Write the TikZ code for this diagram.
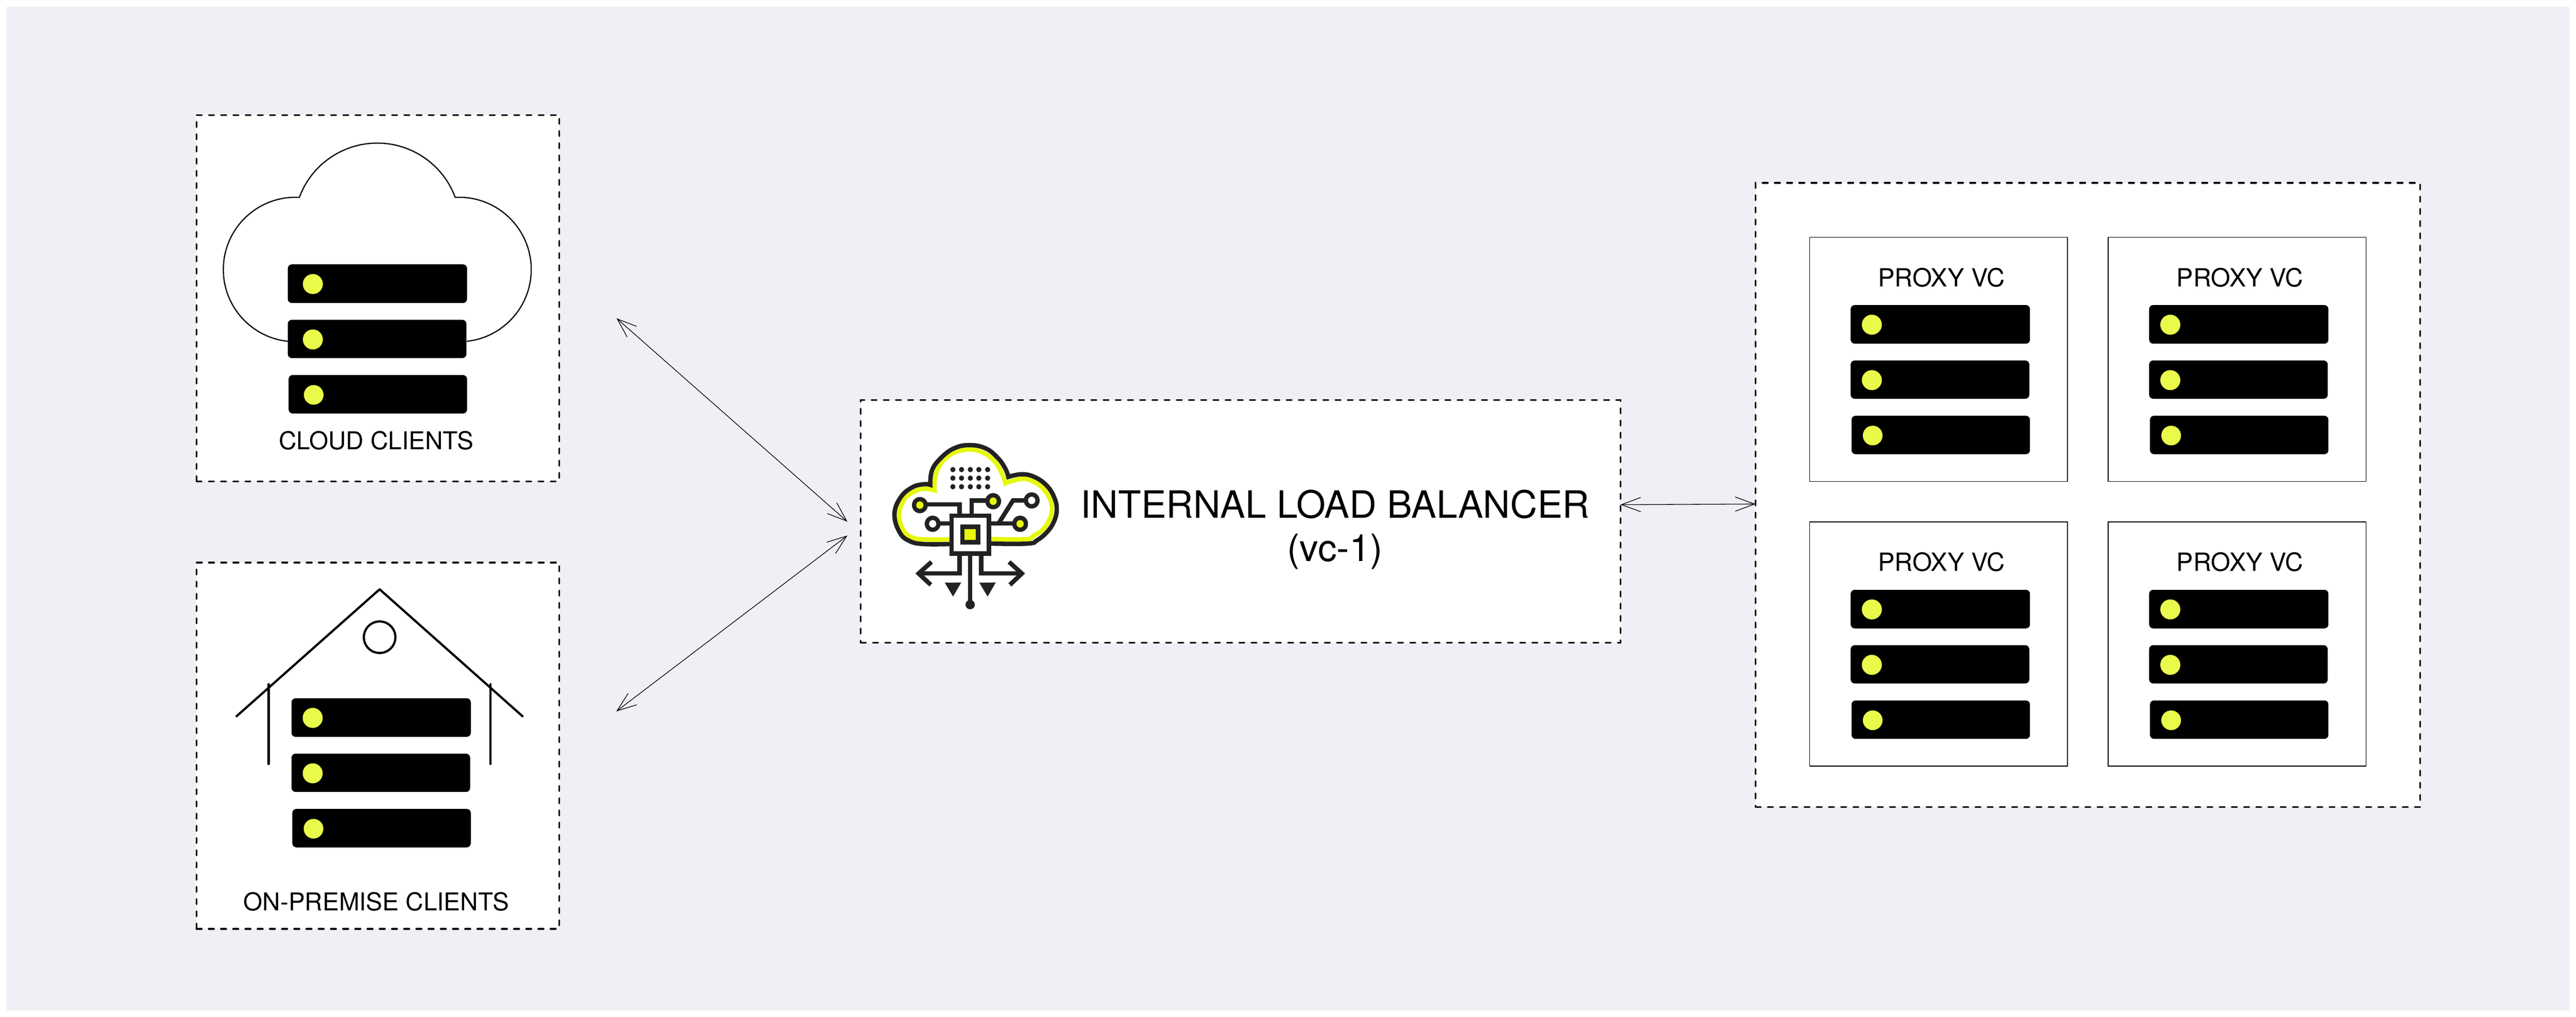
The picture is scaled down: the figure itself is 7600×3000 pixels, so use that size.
\documentclass[tikz,border=0pt]{standalone}
\usepackage{fontspec}
\setmainfont{TeX Gyre Heros}
\usetikzlibrary{arrows.meta}
\definecolor{pagebg}{HTML}{EFEFF5}
\definecolor{led}{HTML}{E9FA4B}
\definecolor{icondark}{HTML}{222222}
\definecolor{iconyellow}{HTML}{E6F80B}
\tikzset{
  dashbox/.style={draw=black,fill=white,line width=0.05cm,line cap=round,
    dash pattern=on 0.155cm off 0.205cm,inner sep=0pt,outer sep=0pt},
  proxybox/.style={draw=black,fill=white,line width=0.022cm,inner sep=0pt,outer sep=0pt,
    minimum width=7.6cm,minimum height=7.2cm},
  serverbar/.style={fill=black,rounded corners=0.12cm},
  serverled/.style={fill=led},
  smalltext/.style={anchor=base,inner sep=0pt,font=\fontsize{20.6}{24}\selectfont},
  proxytext/.style={anchor=base,inner sep=0pt,font=\fontsize{21}{24}\selectfont},
  bigtext/.style={anchor=base,inner sep=0pt,font=\fontsize{31.6}{36}\selectfont},
  thinarrow/.style={draw=black,line width=0.02cm,<->,>={Straight Barb[length=0.57cm,width=0.42cm]}},
  outline/.style={draw=black,line width=0.035cm},
  housebeam/.style={draw=black,line width=0.065cm,line cap=round},
  iconline/.style={draw=icondark,line width=0.13cm,line join=miter},
  iconyel/.style={draw=iconyellow,line width=0.13cm,line join=miter},
  iconfill/.style={fill=icondark},
}
\newcommand\serverstack[3]{%
  \begin{scope}[shift={(#1,#2)}]
    \path[serverbar] (120.5,200) rectangle (649.5,314);
    \path[serverbar] (120.5,363.5) rectangle (647.5,476.5);
    \path[serverbar] (123,526.5) rectangle (649.5,640);
    \path[serverled] (183+#3,258) circle[radius=0.295cm];
    \path[serverled] (183+#3,421.5) circle[radius=0.295cm];
    \path[serverled] (185.5+#3,585) circle[radius=0.29cm];
  \end{scope}}
\newcommand\proxyunit[3]{%
  \node[proxybox] (#1box) at (#2+380,#3+360) {};
  \node[proxytext] (#1label) at (#2+388.5,#3+145.5) {PROXY VC};
  \serverstack{#2}{#3}{0}}
\newcommand\ring[5]{% x y rx ry innerfill (icon coordinates)
  \path[iconfill] (#1,#2) ellipse[x radius=#3,y radius=#4];
  \path[fill=#5] (#1,#2) ellipse[x radius=21,y radius=24];}
\begin{document}
\begin{tikzpicture}[x=0.01cm,y=-0.01cm]
\useasboundingbox (0,0) rectangle (7600,3000);
\path[fill=pagebg] (20,20) rectangle (7580,2980);

% boxes
\node[dashbox,minimum width=10.7cm,minimum height=10.8cm] (cloudbox) at (1115,880) {};
\node[dashbox,minimum width=10.7cm,minimum height=10.8cm] (prembox) at (1115,2200) {};
\node[dashbox,minimum width=22.4cm,minimum height=7.15cm] (lb) at (3660,1538.5) {};
\node[dashbox,minimum width=19.6cm,minimum height=18.4cm] (proxies) at (6160,1460) {};

% cloud clients
\draw[outline] (849,1007) arc[start angle=263.8,end angle=87,radius=2.13cm]
  arc[start angle=159.7,end angle=20.3,radius=2.45cm]
  arc[start angle=93,end angle=-83.8,radius=2.13cm];
\serverstack{728.5}{580}{11.5}
\node[smalltext] (cloudlabel) at (1110,1326) {CLOUD CLIENTS};

% on-premise clients
\draw[housebeam,line join=round] (698,2113) -- (1120,1738.6) -- (1541.5,2113);
\draw[housebeam] (792.7,2018.6) -- (792.7,2254);
\draw[housebeam] (1447,2018.6) -- (1447,2254);
\draw[housebeam] (1120,1880) circle[radius=0.465cm];
\serverstack{739.5}{1860}{0}
\node[smalltext] (premlabel) at (1110,2686) {ON-PREMISE CLIENTS};

% proxies
\proxyunit{pa}{5339.5}{700}
\proxyunit{pb}{6220}{700}
\proxyunit{pc}{5339.5}{1540}
\proxyunit{pd}{6220}{1540}

% load balancer text
\node[bigtext] (lbtitle) at (3939,1527.7) {INTERNAL LOAD BALANCER};
\node[bigtext] (lbsub) at (3939,1656) {(vc-1)};

% connectors
\coordinate (cloudend) at (1819,939);
\coordinate (premend) at (1818,2099);
\coordinate (lbin1) at (2500,1539);
\coordinate (lbin2) at (2500,1580);
\draw[thinarrow] (cloudend) -- (lbin1);
\draw[thinarrow] (premend) -- (lbin2);
\draw[thinarrow] ([yshift=0.495cm]lb.east) -- ([yshift=-0.27cm]proxies.west);

% icon, in its own coordinates
\begin{scope}[shift={(2540,1180)},x=0.005102cm,y=-0.0045914cm]
  \draw[iconyel] plot[smooth,tension=.7] coordinates {(515,895) (362,895) (290,880) (245,835) (220,735) (250,640) (305,590) (365,570) (426,580)}
    -- plot[smooth,tension=.7] coordinates {(426,580) (428,510) (450,430) (500,365) (560,330) (628,318) (700,335) (770,390) (815,470) (835,535)}
    -- plot[smooth,tension=.7] coordinates {(835,535) (930,506) (1000,525) (1055,570) (1095,640) (1105,705) (1090,770) (1050,835) (1000,870) (960,893) (750,893)};
  \draw[iconline] plot[smooth,tension=.7] coordinates {(515,925) (362,925) (280,905) (224,850) (194,735) (228,628) (295,562) (362,541) (401,545)}
    -- plot[smooth,tension=.7] coordinates {(401,545) (412,450) (465,370) (540,310) (628,290) (720,310) (790,370) (835,440) (853,494)}
    -- plot[smooth,tension=.7] coordinates {(853,494) (930,477) (1005,495) (1075,550) (1118,625) (1133,705) (1115,785) (1075,850) (1020,900) (965,922) (750,922)};
  % dots
  \foreach \xx in {532,582,633,682,733}
    \foreach \yy in {447,502,557}
      \path[iconfill] (\xx,\yy) ellipse[x radius=15,y radius=17];
  % chip
  \path[iconfill] (511,730) rectangle (755,1000);
  \path[fill=white] (537,758) rectangle (727,970);
  \path[iconfill] (574,800) rectangle (692,930);
  \path[fill=iconyellow] (600,830) rectangle (664,900);
  % traces
  \draw[iconline] (341,671) -- (570,671) -- (570,730);
  \draw[iconline] (640,730) -- (640,645) -- (765,645);
  \draw[iconline] (988,645) -- (880,645) -- (800,786);
  \draw[iconline] (755,793) -- (921,793);
  \draw[iconline] (415,793) -- (511,793);
  % rings
  \ring{341}{675}{46}{52}{iconyellow}
  \ring{765}{650}{46}{52}{iconyellow}
  \ring{988}{645}{46}{52}{white}
  \ring{921}{795}{46}{52}{iconyellow}
  \ring{415}{795}{46}{52}{white}
  % lower connectors
  \draw[iconline] (570,1000) -- (570,1114) -- (340,1114);
  \draw[iconline] (695,1000) -- (695,1114) -- (925,1114);
  \draw[iconline] (408,1040) -- (334,1114) -- (404,1187);
  \draw[iconline] (857,1040) -- (931,1114) -- (862,1187);
  \draw[iconline] (632,1000) -- (632,1300);
  \path[iconfill] (632,1314) ellipse[x radius=27,y radius=30];
  \path[iconfill] (485,1173) -- (580,1172) -- (533,1262) -- cycle;
  \path[iconfill] (685,1173) -- (780,1172) -- (733,1262) -- cycle;
\end{scope}
\end{tikzpicture}
\end{document}
